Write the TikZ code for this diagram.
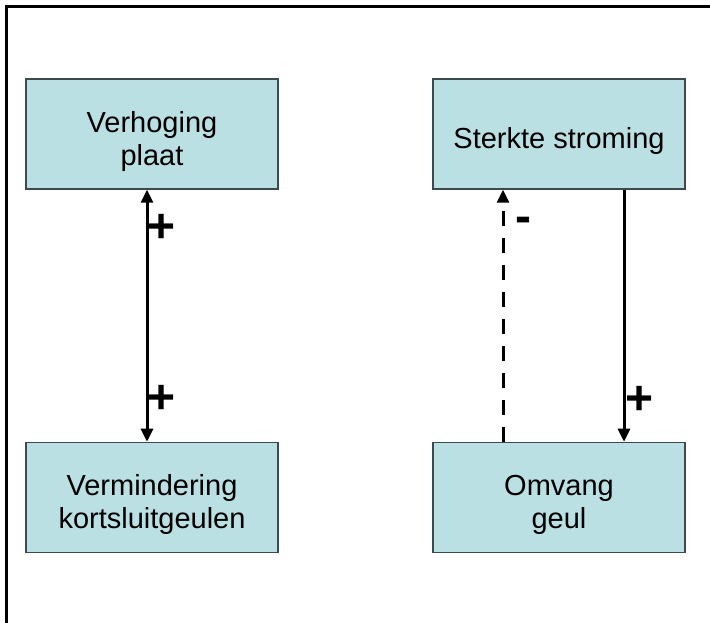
\documentclass[tikz,border=0pt]{standalone}
\usepackage{fontspec}
\setmainfont{Liberation Sans}
\usetikzlibrary{calc, arrows.meta}
\definecolor{boxFill}{HTML}{BBE0E3}
\definecolor{boxLine}{HTML}{3D4A4D}
% lowers the text in a box a little
\newcommand{\boxgap}{\rule{0pt}{36pt}}

\tikzset{
    factor/.style={draw=boxLine, line width=1.5pt, fill=boxFill, align=center,
        minimum width=252pt, minimum height=110pt, inner sep=0pt,
        font=\fontsize{29}{33}\selectfont},
    link/.style={line width=3pt, -{Triangle[width=12pt,length=13pt]}},
    sign/.style={font=\fontsize{48}{48}\selectfont\bfseries, inner sep=0pt}
}

\begin{document}
\begin{tikzpicture}[x=1pt, y=1pt]
    \useasboundingbox (0,0) rectangle (710,623);
    % frame, only top and left edge visible
    \draw[line width=3pt] (6,0) |- (710,616);

    \node[factor] (plaat) at (152,489) {\boxgap Verhoging\\plaat};
    \node[factor] (kort) at (152,125.5) {\boxgap Vermindering\\kortsluitgeulen};
    \node[factor] (stroom) at (559,489) {\boxgap Sterkte stroming};
    \node[factor] (geul) at (559,125.5) {\boxgap Omvang\\geul};

    \draw[link, {Triangle[width=12pt,length=13pt]}-{Triangle[width=12pt,length=13pt]}]
        ($(plaat.south)+(-5,0)$) -- ($(kort.north)+(-5,0)$);
    \draw[link, dash pattern=on 15pt off 12pt]
        ($(geul.north)+(-56,0)$) -- ($(stroom.south)+(-56,0)$);
    \draw[link] ($(stroom.south)+(65,0)$) -- ($(geul.north)+(65,0)$);

    \node[sign] (p1) at (162,395) {+};
    \node[sign] (p2) at (162,224) {+};
    \node[sign, anchor=base] (m1) at (523,390) {-};
    \node[sign] (p3) at (640,223) {+};
\end{tikzpicture}
\end{document}
